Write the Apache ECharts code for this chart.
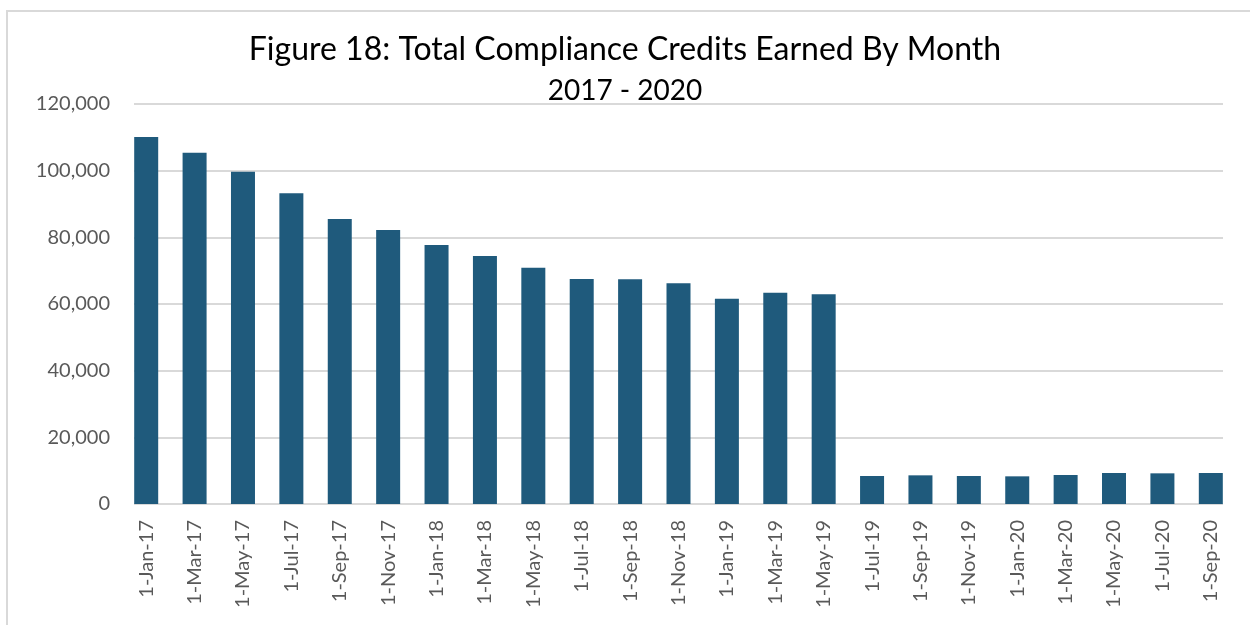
<!DOCTYPE html>
<html>
<head>
<meta charset="utf-8">
<script src="https://cdn.jsdelivr.net/npm/echarts@6/dist/echarts.min.js"></script>
<style>
  html, body { margin: 0; padding: 0; background: #fff; }
  #chart { width: 1250px; height: 625px; }
</style>
</head>
<body>
<div id="chart"></div>
<script>
// months on the x axis
var months = [
  "1-Jan-17", "1-Mar-17", "1-May-17", "1-Jul-17", "1-Sep-17", "1-Nov-17",
  "1-Jan-18", "1-Mar-18", "1-May-18", "1-Jul-18", "1-Sep-18", "1-Nov-18",
  "1-Jan-19", "1-Mar-19", "1-May-19", "1-Jul-19", "1-Sep-19", "1-Nov-19",
  "1-Jan-20", "1-Mar-20", "1-May-20", "1-Jul-20", "1-Sep-20"
];
// credits earned
var credits = [
  110100, 105400, 99700, 93200, 85500, 82200,
  77700, 74400, 70900, 67500, 67400, 66200,
  61600, 63400, 62900, 8400, 8600, 8400,
  8300, 8700, 9300, 9200, 9300
];
var yTicks = [0, 20000, 40000, 60000, 80000, 100000, 120000];

var font = "Lato, sans-serif";
var chart = echarts.init(document.getElementById("chart"));

var option = {
  animation: false,
  title: {
    text: "{a|Figure 18: Total Compliance Credits Earned By Month}\n{b|2017 - 2020}",
    left: "center",
    top: 24,
    textStyle: {
      rich: {
        a: { fontFamily: font, fontSize: 32, fontWeight: "normal", color: "#000", lineHeight: 41, align: "center" },
        b: { fontFamily: font, fontSize: 28, fontWeight: "normal", color: "#000", lineHeight: 41, align: "center" }
      }
    }
  },
  graphic: [{
    type: "rect",
    shape: { x: 7, y: 11, width: 1300, height: 700 },
    style: { fill: "none", stroke: "#d9d9d9", lineWidth: 2 },
    silent: true
  }],
  grid: [
    // bars
    { left: 122, right: 15, top: 104, bottom: 121 },
    // gridlines only, slightly narrower like the original
    { left: 134, right: 27, top: 104, bottom: 121 }
  ],
  xAxis: [
    {
      type: "category",
      gridIndex: 0,
      data: months,
      axisTick: { show: false },
      axisLine: { show: false },
      axisLabel: {
        rotate: 90,
        interval: 0,
        margin: 16,
        fontFamily: font,
        fontSize: 20,
        color: "#595959"
      }
    },
    {
      type: "category",
      gridIndex: 1,
      data: months,
      show: false
    }
  ],
  yAxis: [
    {
      type: "value",
      gridIndex: 0,
      min: yTicks[0],
      max: yTicks[yTicks.length - 1],
      interval: 20000,
      splitLine: { show: false },
      axisLine: { show: false },
      axisTick: { show: false },
      axisLabel: {
        margin: 12,
        fontFamily: font,
        fontSize: 20,
        color: "#595959",
        formatter: function (v) { return v.toLocaleString("en-US"); }
      }
    },
    {
      type: "value",
      gridIndex: 1,
      min: yTicks[0],
      max: yTicks[yTicks.length - 1],
      interval: 20000,
      axisLine: { show: false },
      axisTick: { show: false },
      axisLabel: { show: false },
      splitLine: { lineStyle: { color: "#d9d9d9", width: 2 } }
    }
  ],
  series: [{
    type: "bar",
    xAxisIndex: 0,
    yAxisIndex: 0,
    data: credits,
    barWidth: 24,
    itemStyle: { color: "#1f5a7c" },
    z: 3
  }]
};

chart.setOption(option);
window.addEventListener("resize", function () { chart.resize(); });
</script>
</body>
</html>
